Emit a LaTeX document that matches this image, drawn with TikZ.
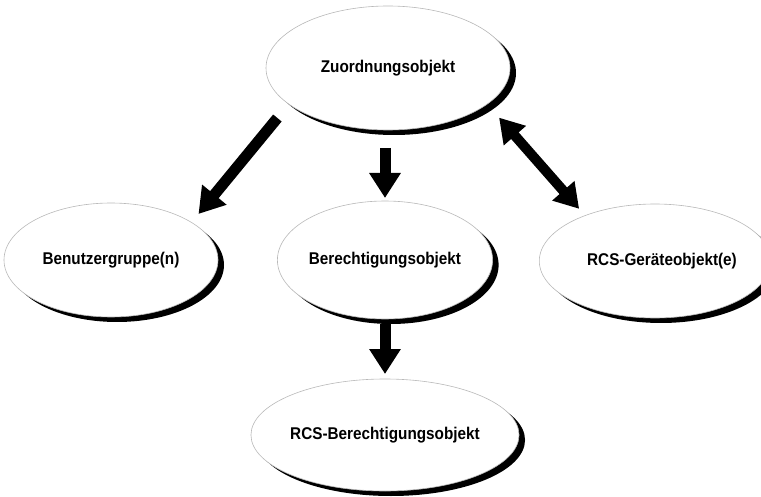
\documentclass[tikz,border=0pt]{standalone}
\usepackage{fontspec}
\newfontfamily\lblfont{Liberation Sans}[FakeStretch=0.9]
\usetikzlibrary{shapes.geometric,arrows.meta,shadows}
\begin{document}
\begin{tikzpicture}[x=1pt,y=-1pt,
  obj/.style={ellipse, draw=gray!55, line width=0.6pt, fill=white,
    inner sep=0pt, outer sep=0pt,
    font=\lblfont\bfseries\fontsize{17}{20}\selectfont,
    drop shadow={shadow xshift=6pt, shadow yshift=-5pt, fill=black, opacity=1}},
  bigarrow/.style={line width=11pt, -{Triangle[width=30pt,length=25pt]}},
  dblarrow/.style={line width=10pt, {Triangle[width=28pt,length=24pt]}-{Triangle[width=28pt,length=24pt]}}
  ]
\useasboundingbox (0,0) rectangle (761,497);
\node[obj, minimum width=244pt, minimum height=124pt] (zu) at (388,68) {Zuordnungsobjekt};
\node[obj, minimum width=214pt, minimum height=114pt] (bg) at (111,260) {Benutzergruppe(n)};
\node[obj, minimum width=206pt, minimum height=118pt] (be) at (385,260) {Berechtigungsobjekt};
\node[obj, minimum width=200pt, minimum height=114pt] (rg) at (655,261) {\hspace*{14pt}RCS-Geräteobjekt(e)};
\node[obj, minimum width=208pt, minimum height=112pt] (rb) at (385,435) {RCS-Berechtigungsobjekt};

\draw[bigarrow, shorten <=18pt, shorten >=11pt] (zu.200) -- (bg.25);
\draw[bigarrow, shorten <=18pt, shorten >=3pt] (zu.south -| be.north) -- (be.north);
\draw[bigarrow, shorten <=5pt, shorten >=5pt] (be.south) -- (rb.north);
\draw[dblarrow, shorten <=18pt, shorten >=9pt] (zu.340) -- (rg.147);
\end{tikzpicture}
\end{document}
